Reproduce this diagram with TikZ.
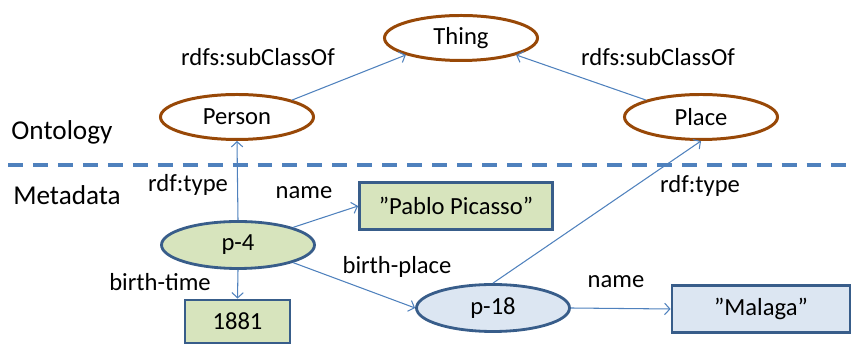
\documentclass[tikz,border=0pt]{standalone}
\usepackage{fontspec}
\setmainfont{Carlito}
\usetikzlibrary{shapes.geometric,arrows.meta}
\definecolor{ontobrown}{RGB}{152,72,7}
\definecolor{litgreen}{RGB}{215,228,189}
\definecolor{resblue}{RGB}{220,230,242}
\definecolor{boxborder}{RGB}{56,93,138}
\definecolor{linkblue}{RGB}{79,129,189}
\begin{document}
\begin{tikzpicture}[font=\fontsize{14}{17}\selectfont,
    >={Straight Barb[length=3pt,width=6.5pt]},
    klass/.style={ellipse,draw=ontobrown,line width=1.7pt,fill=white,
        minimum width=3.06cm,minimum height=0.9cm,inner sep=0pt},
    res/.style={ellipse,draw=boxborder,line width=1.6pt,
        minimum width=3.06cm,minimum height=0.94cm,inner sep=0pt},
    lit/.style={rectangle,draw=boxborder,line width=1.6pt,minimum height=0.94cm},
    link/.style={->,color=linkblue,line width=0.6pt}]
    \useasboundingbox (0,0) rectangle (17.1,6.88);
    % layers
    \draw[color=linkblue,line width=1.8pt,dash pattern=on 8.5pt off 5.7pt] (0.16,3.58)--(17.1,3.58);
    \node (onto) at (1.24,4.24) {\fontsize{15.5}{18}\selectfont Ontology};
    \node (meta) at (1.34,2.98) {\fontsize{15.5}{18}\selectfont Metadata};
    % classes
    \node[klass] (thing) at (9.22,6.12) {Thing};
    \node[klass] (person) at (4.74,4.54) {Person};
    \node[klass] (place) at (14.02,4.54) {Place};
    % instances
    \node[res,fill=litgreen] (p4) at (4.76,1.98) {p-4};
    \node[res,fill=resblue] (p18) at (9.86,0.72) {p-18};
    \node[lit,fill=litgreen,minimum width=3.86cm] (picasso) at (9.12,2.76) {”Pablo Picasso”};
    \node[lit,fill=litgreen,minimum width=2.1cm,minimum height=0.86cm] (year) at (4.75,0.45) {1881};
    \node[lit,fill=resblue,minimum width=3.56cm] (malaga) at (15.22,0.70) {”Malaga”};
    % links
    \draw[link] (person.north east) -- (thing.south west);
    \draw[link] (place.north west) -- (thing.south east);
    \draw[link] (p4.north) -- (person.south);
    \draw[link] (p4.north east) -- (picasso.west);
    \draw[link] (p4.south) -- (year.north);
    \draw[link] (p4.south east) -- (p18.west);
    \draw[link] (p18.north) -- (place.south);
    \draw[link] (p18.east) -- (malaga.west);
    % link labels
    \node (subl) at (5.16,5.74) {rdfs:subClassOf};
    \node (subr) at (13.16,5.74) {rdfs:subClassOf};
    \node (typel) at (3.76,3.18) {rdf:type};
    \node (typer) at (14.0,3.16) {rdf:type};
    \node (namel) at (6.08,3.02) {name};
    \node (namer) at (12.32,1.24) {name};
    \node (btime) at (3.2,1.24) {birth-time};
    \node (bplace) at (7.94,1.54) {birth-place};
\end{tikzpicture}
\end{document}
